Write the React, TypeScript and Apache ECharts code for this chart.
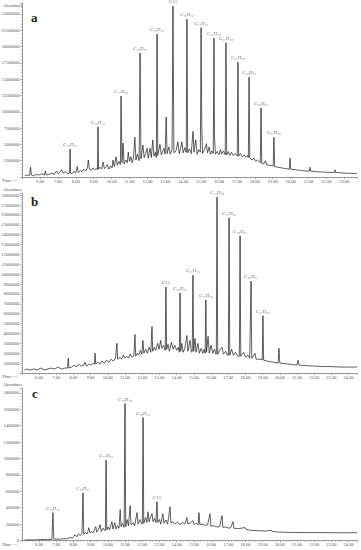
import { useEffect, useRef } from "react";
import * as echarts from "echarts";

// Panel a: abundance in millions, time in minutes
const traceA: [number, number][] = [
  [5.15,0.2],[5.3,0.3],[5.42,0.25],[5.47,1.5],[5.52,0.3],[5.65,0.2],[5.8,0.4],[5.95,0.3],[6.1,0.5],[6.25,0.3],[6.3,0.9],[6.36,0.3],[6.5,0.4],[6.65,0.6],[6.8,0.4],[6.92,0.9],[7.0,0.5],[7.1,0.7],[7.2,1.1],[7.3,0.6],[7.42,0.8],[7.55,0.5],[7.65,0.6],[7.71,0.6],[7.8,0.5],[7.9,0.9],[8.0,0.6],[8.08,1.6],[8.14,0.7],[8.25,1.0],[8.35,0.8],[8.45,1.2],[8.55,0.9],[8.65,1.4],[8.7,2.6],[8.76,1.2],[8.85,1.0],[8.95,1.4],[9.05,1.1],[9.15,1.3],[9.21,1.1],[9.27,1.2],[9.35,1.5],[9.45,1.2],[9.52,2.3],[9.6,1.3],[9.7,1.6],[9.76,1.9],[9.85,1.2],[9.95,1.7],[10.03,1.4],[10.08,2.6],[10.15,1.6],[10.25,3.1],[10.32,1.8],[10.4,2.4],[10.49,1.9],[10.58,2.2],[10.64,5.2],[10.7,2.0],[10.8,2.6],[10.88,2.2],[10.93,3.8],[11.0,2.4],[11.08,3.1],[11.15,2.2],[11.22,2.9],[11.3,6.1],[11.36,2.6],[11.44,3.5],[11.54,2.5],[11.64,2.8],[11.75,4.9],[11.82,3.0],[11.9,3.6],[11.98,4.4],[12.05,2.9],[12.15,4.4],[12.22,3.0],[12.3,5.7],[12.37,3.2],[12.45,3.8],[12.5,3.0],[12.58,3.3],[12.7,5.0],[12.78,3.4],[12.86,4.0],[12.93,4.4],[12.99,3.5],[13.05,9.2],[13.1,3.6],[13.2,4.6],[13.28,3.5],[13.38,4.2],[13.48,3.7],[13.6,4.0],[13.7,5.4],[13.78,3.6],[13.86,4.4],[13.93,5.4],[14.0,3.7],[14.1,4.5],[14.17,3.8],[14.25,3.7],[14.35,4.3],[14.45,3.6],[14.55,7.0],[14.6,3.8],[14.7,5.7],[14.78,3.5],[14.87,4.2],[14.96,3.8],[15.04,7.5],[15.08,3.6],[15.18,4.1],[15.3,5.1],[15.36,3.7],[15.45,4.6],[15.52,3.5],[15.6,4.0],[15.68,3.6],[15.75,6.1],[15.8,3.5],[15.9,3.9],[16.0,3.4],[16.08,4.2],[16.15,3.5],[16.25,4.0],[16.35,3.4],[16.43,3.4],[16.52,3.9],[16.6,3.3],[16.7,3.8],[16.8,3.3],[16.9,3.6],[17.02,3.2],[17.1,3.2],[17.2,3.6],[17.3,3.1],[17.4,3.4],[17.5,3.0],[17.6,3.3],[17.64,3.0],[17.72,2.9],[17.85,2.6],[17.95,2.9],[18.05,2.4],[18.15,2.6],[18.31,2.2],[18.39,2.1],[18.5,2.0],[18.6,2.5],[18.66,1.9],[18.8,1.8],[19.03,1.7],[19.11,1.6],[19.3,1.5],[19.5,1.4],[19.7,1.3],[19.93,1.2],[19.97,2.9],[20.01,1.2],[20.3,1.1],[20.6,1.0],[20.9,0.9],[21.04,0.9],[21.08,1.5],[21.12,0.9],[21.5,0.8],[21.9,0.75],[22.2,0.7],[22.44,0.7],[22.48,1.1],[22.52,0.7],[23.0,0.6],[23.4,0.55],[23.7,0.55]
];
const peaksA: [string, number, number][] = [
  ["C₁₅H₃₂",7.68,4.3],["C₁₆H₃₄",9.24,7.7],["C₁₇H₃₆",10.53,12.4],["C₁₈H₃₈",11.59,19.0],["C₁₉H₄₀",12.54,21.9],["C15",13.43,26.2],["C₂₀H₄₂",14.21,24.2],["C₂₁H₄₄",15.0,22.9],["C₂₂H₄₆",15.72,21.3],["C₂₃H₄₈",16.39,20.6],["C₂₄H₅₀",17.06,17.6],["C₂₅H₅₂",17.68,15.3],["C₂₆H₅₄",18.35,10.6],["C₂₇H₅₆",19.07,6.1]
];

// Panel b: abundance in millions
const traceB: [number, number][] = [
  [5.15,0.3],[5.3,0.4],[5.5,0.3],[5.7,0.4],[5.9,0.3],[6.1,0.5],[6.3,0.3],[6.5,0.4],[6.7,0.5],[6.9,0.4],[7.1,0.6],[7.3,0.4],[7.5,0.5],[7.66,0.5],[7.7,1.5],[7.74,0.5],[7.9,0.6],[8.05,0.8],[8.15,0.6],[8.3,0.9],[8.45,0.7],[8.6,0.8],[8.67,1.1],[8.75,0.7],[8.9,0.9],[9.05,0.8],[9.15,1.0],[9.22,0.9],[9.26,2.0],[9.3,0.9],[9.42,1.1],[9.55,0.9],[9.65,1.2],[9.8,1.0],[9.92,1.3],[10.05,1.1],[10.2,1.4],[10.32,1.2],[10.45,1.5],[10.53,3.0],[10.57,1.4],[10.7,1.6],[10.8,1.4],[10.9,1.8],[11.0,1.5],[11.1,1.7],[11.2,1.5],[11.3,1.9],[11.42,1.6],[11.52,1.8],[11.58,3.9],[11.62,1.7],[11.72,2.0],[11.8,1.8],[11.9,2.3],[11.98,1.9],[12.04,3.3],[12.1,2.0],[12.2,2.4],[12.3,2.0],[12.4,2.6],[12.5,2.1],[12.57,4.7],[12.61,2.2],[12.7,2.6],[12.78,2.3],[12.9,3.0],[12.98,2.4],[13.07,3.3],[13.14,2.5],[13.25,2.8],[13.34,2.3],[13.42,2.4],[13.5,2.9],[13.58,2.2],[13.7,3.1],[13.8,2.4],[13.9,2.8],[14.0,2.3],[14.1,2.6],[14.16,2.1],[14.24,2.2],[14.3,3.0],[14.38,2.1],[14.48,2.5],[14.6,3.8],[14.66,2.2],[14.78,3.3],[14.86,2.1],[14.91,2.2],[14.99,2.2],[15.07,3.5],[15.13,2.1],[15.24,3.0],[15.32,2.0],[15.42,2.5],[15.52,2.0],[15.6,2.4],[15.66,2.0],[15.74,2.1],[15.83,3.7],[15.9,2.0],[16.0,2.8],[16.1,2.0],[16.2,2.4],[16.28,1.9],[16.31,2.0],[16.39,1.9],[16.5,2.3],[16.64,2.6],[16.72,1.9],[16.85,2.2],[16.95,1.8],[17.01,1.8],[17.09,1.8],[17.2,2.4],[17.3,1.8],[17.42,2.1],[17.55,1.7],[17.65,1.7],[17.73,1.7],[17.9,2.1],[18.0,1.6],[18.15,1.8],[18.25,1.5],[18.29,1.5],[18.37,1.5],[18.56,2.0],[18.62,1.4],[18.8,1.4],[18.98,1.35],[19.06,1.3],[19.3,1.2],[19.6,1.1],[19.9,1.0],[19.95,2.5],[20.0,1.0],[20.3,0.95],[20.7,0.85],[21.0,0.8],[21.06,1.3],[21.12,0.8],[21.5,0.75],[22.0,0.7],[22.5,0.65],[23.0,0.65],[23.5,0.6],[24.0,0.6],[24.5,0.6]
];
const peaksB: [string, number, number][] = [
  ["C15",13.38,8.7],["C₂₀H₄₂",14.2,8.1],["C₂₁H₄₄",14.95,9.9],["C₂₂H₄₆",15.7,7.4],["C₂₃H₄₈",16.35,17.8],["C₂₄H₅₀",17.05,15.7],["C₂₅H₅₂",17.69,13.9],["C₂₆H₅₄",18.33,9.3],["C₂₇H₅₆",19.02,5.8]
];

// Panel c: abundance in thousands
const traceC: [number, number][] = [
  [5.15,5],[5.4,8],[5.7,6],[6.0,10],[6.3,12],[6.55,10],[6.75,14],[6.86,14],[7.0,18],[7.2,15],[7.4,22],[7.6,20],[7.8,36],[7.95,30],[8.1,70],[8.2,45],[8.3,80],[8.4,60],[8.5,90],[8.6,75],[8.7,100],[8.8,80],[8.9,157],[8.96,90],[9.05,110],[9.15,95],[9.3,170],[9.36,100],[9.45,130],[9.55,194],[9.62,110],[9.72,150],[9.82,120],[9.86,125],[9.94,130],[10.02,165],[10.1,130],[10.24,230],[10.3,140],[10.41,218],[10.48,140],[10.56,180],[10.65,150],[10.72,376],[10.77,170],[10.85,210],[10.95,160],[11.04,170],[11.12,255],[11.2,180],[11.3,424],[11.35,190],[11.48,218],[11.56,180],[11.7,340],[11.76,200],[11.87,255],[11.97,200],[12.01,205],[12.09,210],[12.2,280],[12.27,220],[12.34,350],[12.4,230],[12.5,290],[12.57,327],[12.63,230],[12.72,270],[12.8,220],[12.83,220],[12.9,220],[13.0,255],[13.08,200],[13.2,327],[13.27,210],[13.38,250],[13.48,200],[13.62,412],[13.67,210],[13.78,230],[13.9,200],[14.05,225],[14.2,195],[14.35,220],[14.48,200],[14.6,279],[14.66,200],[14.8,215],[14.95,242],[15.02,195],[15.15,210],[15.25,190],[15.3,340],[15.35,195],[15.5,200],[15.65,185],[15.8,190],[15.94,327],[15.99,175],[16.15,180],[16.35,165],[16.5,170],[16.64,303],[16.69,160],[16.85,165],[17.05,150],[17.15,160],[17.28,230],[17.33,150],[17.55,145],[17.75,150],[17.98,157],[18.05,135],[18.3,125],[18.6,121],[18.9,118],[19.2,115],[19.43,125],[19.6,110],[19.9,103],[20.3,100],[20.8,98],[21.5,97],[22.3,96],[23.2,95],[24.0,95],[24.5,95]
];
const peaksC: [string, number, number][] = [
  ["C₁₅H₃₂",6.81,340],["C₁₆H₃₄",8.56,580],["C₁₇H₃₆",9.9,980],["C₁₈H₃₈",11.0,1670],["C₁₉H₄₀",12.05,1500],["C15",12.86,473]
];

const panelLetters = ["a", "b", "c"];

const SERIF = "'Liberation Serif', 'DejaVu Serif', serif";
const AXIS_COLOR = "#808080";
const LABEL_COLOR = "#555";

function mergeTrace(trace: [number, number][], peaks: [string, number, number][], unit: number) {
  const pts = trace.map((p) => [p[0], p[1] * unit]);
  peaks.forEach((p) => pts.push([p[1], p[2] * unit]));
  pts.sort((a, b) => a[0] - b[0]);
  return pts;
}

export default function App() {
  const ref = useRef<HTMLDivElement>(null);
  useEffect(() => {
    const chart = echarts.init(ref.current!, undefined, { renderer: "svg" });
    const panels = [
      { trace: traceA, peaks: peaksA, unit: 1e6, xMax: 23.7, yMax: 26.7e6, yInt: 2.5e6, showZero: false },
      { trace: traceB, peaks: peaksB, unit: 1e6, xMax: 24.5, yMax: 18.2e6, yInt: 1e6, showZero: false },
      { trace: traceC, peaks: peaksC, unit: 1e3, xMax: 24.5, yMax: 1.86e6, yInt: 2e5, showZero: true },
    ];
    const grids = [
      { left: 22.1, right: 4.2, top: 2.9, height: 174.1 },
      { left: 21.8, right: 3.8, top: 193.2, height: 179.8 },
      { left: 21.8, right: 3.8, top: 388, height: 152.5 },
    ].map((g) => ({ ...g, containLabel: false, outerBoundsMode: "none" }));

    const xAxis = panels.map((p, i) => ({
      type: "value",
      gridIndex: i,
      min: 5,
      max: p.xMax,
      interval: 1,
      axisLine: { show: true, lineStyle: { color: AXIS_COLOR, width: 0.8 } },
      axisTick: { show: true, length: 2, lineStyle: { color: AXIS_COLOR, width: 0.6 } },
      minorTick: { show: true, splitNumber: 5, length: 1.2, lineStyle: { color: AXIS_COLOR, width: 0.5 } },
      splitLine: { show: false },
      axisLabel: {
        fontSize: 4.5,
        margin: 1.5,
        color: LABEL_COLOR,
        fontFamily: SERIF,
        showMinLabel: false,
        showMaxLabel: false,
        formatter: (v: number) => v.toFixed(2),
      },
    }));
    const yAxis = panels.map((p, i) => ({
      type: "value",
      gridIndex: i,
      min: 0,
      max: p.yMax,
      interval: p.yInt,
      axisLine: { show: true, lineStyle: { color: AXIS_COLOR, width: 0.8 } },
      axisTick: { show: true, length: 2, lineStyle: { color: AXIS_COLOR, width: 0.6 } },
      minorTick: { show: true, splitNumber: 5, length: 1, lineStyle: { color: AXIS_COLOR, width: 0.5 } },
      splitLine: { show: false },
      axisLabel: {
        fontSize: 4.5,
        margin: 2.5,
        color: LABEL_COLOR,
        fontFamily: SERIF,
        showMinLabel: p.showZero,
        showMaxLabel: false,
        formatter: (v: number) => String(Math.round(v)),
      },
    }));

    const series: any[] = [];
    panels.forEach((p, i) => {
      series.push({
        type: "line",
        xAxisIndex: i,
        yAxisIndex: i,
        data: mergeTrace(p.trace, p.peaks, p.unit),
        showSymbol: false,
        symbol: "none",
        sampling: undefined,
        lineStyle: { color: "#1a1a1a", width: 0.7 },
        silent: true,
      });
      series.push({
        type: "scatter",
        xAxisIndex: i,
        yAxisIndex: i,
        symbolSize: 1,
        itemStyle: { color: "rgba(0,0,0,0)" },
        clip: false,
        data: p.peaks.map((pk) => ({ name: pk[0], value: [pk[1], pk[2] * p.unit] })),
        label: {
          show: true,
          position: "top",
          distance: 1.5,
          formatter: "{b}",
          fontSize: 5,
          color: "#333",
          fontFamily: SERIF,
        },
        silent: true,
      });
    });

    const abundanceY = [5.5, 190, 384.5];
    const timeY = [180.5, 376.5, 544.5];
    const letterPos = [
      [31, 11],
      [31, 195],
      [32, 387],
    ];
    const graphic: any[] = [];
    for (let i = 0; i < 3; i++) {
      graphic.push({
        type: "text",
        left: 3,
        top: abundanceY[i] - 2.5,
        style: { text: "Abundance", fontSize: 4.3, fill: LABEL_COLOR, fontFamily: SERIF },
      });
      graphic.push({
        type: "text",
        left: 2,
        top: timeY[i] - 2.5,
        style: { text: "Time-->", fontSize: 4.5, fill: LABEL_COLOR, fontFamily: SERIF },
      });
      graphic.push({
        type: "text",
        left: letterPos[i][0],
        top: letterPos[i][1],
        style: { text: panelLetters[i], fontSize: 13, fontWeight: "bold", fill: "#222", fontFamily: SERIF },
      });
    }

    chart.setOption({
      animation: false,
      backgroundColor: "#fff",
      grid: grids,
      xAxis,
      yAxis,
      series,
      graphic,
    } as any);
    return () => chart.dispose();
  }, []);
  return (
    <div
      ref={ref}
      style={{ position: "absolute", left: 0, top: 0, width: 361, height: 550, background: "#fff" }}
    />
  );
}
